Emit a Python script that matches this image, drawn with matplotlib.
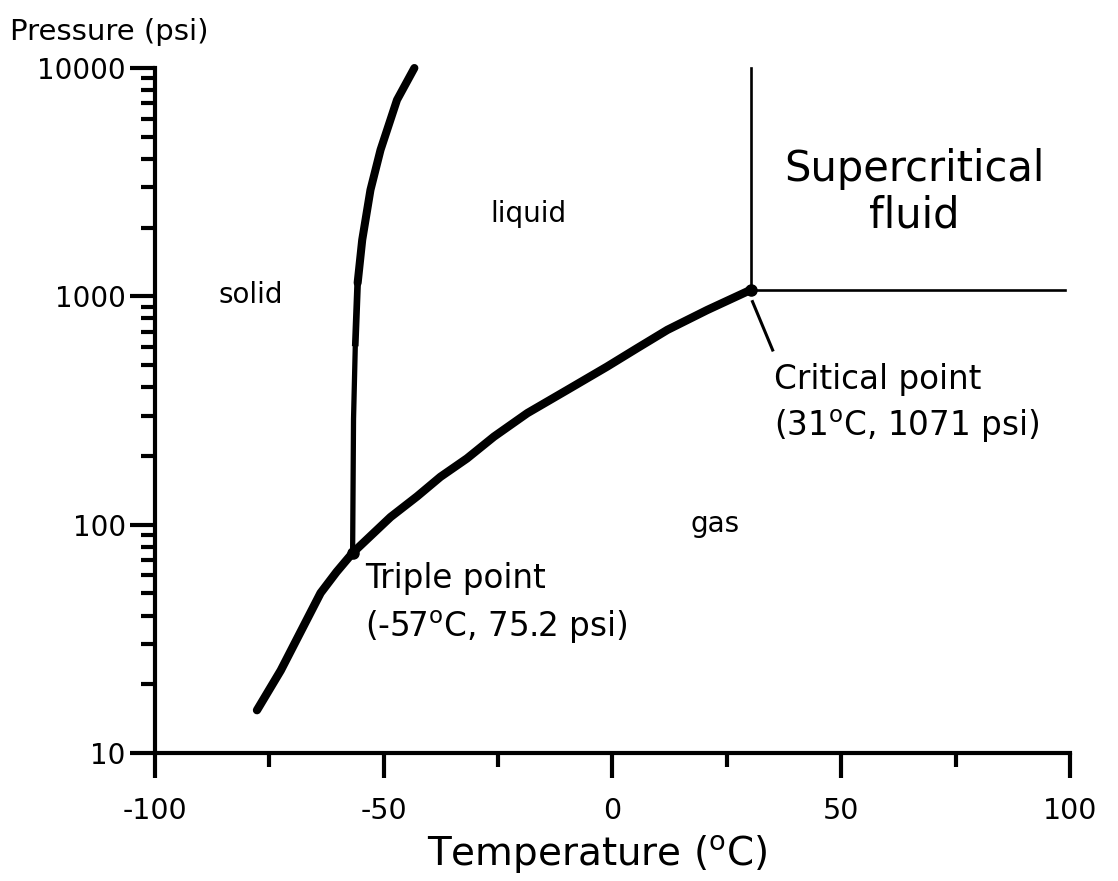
import matplotlib
matplotlib.use('Agg')
import matplotlib.pyplot as plt
from matplotlib.ticker import FixedLocator, LogLocator, NullFormatter

# solid-gas / liquid-gas boundary
vap_temp = [-77.7, -72.5, -63.8, -60.3, -56.8, -48.5, -42.7, -37.6, -31.8,
            -25.9, -18.6, -9.9, -1.2, 5.4, 12.0, 20.7, 29.4, 30.2]
vap_pres = [15.4, 23.0, 50.2, 62.1, 75.2, 108, 133, 162, 195,
            243, 308, 389, 492, 593, 713, 871, 1049, 1071]

# solid-liquid boundary
melt_temp = [-56.8, -56.6, -56.2, -55.7, -54.7, -52.9, -50.7, -47.1, -43.3]
melt_pres = [75.2, 290, 625, 1145, 1767, 2924, 4378, 7248, 10000]

triple = (-56.8, 75.2)
critical = (30.2, 1071)
super_right = 99.0
p_top = 10000

x_ticks = [-100, -50, 0, 50, 100]
x_minor = [-75, -25, 25, 75]
x_labels = ['-100', '-50', '0', '50', '100']
y_ticks = [10, 100, 1000, 10000]
y_labels = ['10', '100', '1000', '10000']

plt.rcParams['font.family'] = 'DejaVu Sans'
plt.rcParams['mathtext.fontset'] = 'dejavusans'

fig = plt.figure(figsize=(11.18, 8.81), dpi=100)
ax = fig.add_axes([0.1386, 0.1453, 0.8185, 0.7775])

# phase boundaries
ax.plot(vap_temp, vap_pres, color='black', lw=6, solid_capstyle='round',
        solid_joinstyle='round', clip_on=False)
ax.plot(melt_temp[:3], melt_pres[:3], color='black', lw=3.8,
        solid_joinstyle='round', clip_on=False)
ax.plot(melt_temp[2:4], melt_pres[2:4], color='black', lw=4.8,
        solid_joinstyle='round', clip_on=False)
ax.plot(melt_temp[3:], melt_pres[3:], color='black', lw=5.8,
        solid_capstyle='round', solid_joinstyle='round', clip_on=False)

# supercritical region edges
ax.plot([critical[0], critical[0]], [critical[1], p_top], color='black',
        lw=1.9, clip_on=False)
ax.plot([critical[0], super_right], [critical[1], critical[1]],
        color='black', lw=1.9, clip_on=False)

ax.plot(*triple, 'o', color='black', ms=8, zorder=5)
ax.plot(*critical, 'o', color='black', ms=8, zorder=5)

# leader for critical point label
ax.plot([30.6, 35.0], [948, 582], color='black', lw=2.2)

# multi-line texts: y is the baseline of the last line
ax.text(-86.1, 935, 'solid', fontsize=20, va='baseline')
ax.text(-18.4, 2118, 'liquid', fontsize=20, va='baseline', ha='center')
ax.text(17.0, 92.9, 'gas', fontsize=20, va='baseline')
ax.text(66.0, 1994, 'Supercritical\nfluid', fontsize=30, ha='center',
        va='baseline', linespacing=1.15, multialignment='center')
ax.text(-54.0, 32.3, 'Triple point\n(-57$^{\\mathrm{o}}$C, 75.2 psi)',
        fontsize=23.5, va='baseline', linespacing=1.45)
ax.text(35.2, 245, 'Critical point\n(31$^{\\mathrm{o}}$C, 1071 psi)',
        fontsize=23.5, va='baseline', linespacing=1.38)

ax.set_xlim(-100, 100)
ax.set_ylim(10, 10000)
ax.set_yscale('log')

ax.xaxis.set_major_locator(FixedLocator(x_ticks))
ax.xaxis.set_minor_locator(FixedLocator(x_minor))
ax.set_xticklabels(x_labels)
ax.yaxis.set_major_locator(FixedLocator(y_ticks))
ax.yaxis.set_minor_locator(LogLocator(base=10, subs=range(2, 10)))
ax.yaxis.set_minor_formatter(NullFormatter())
ax.set_yticklabels(y_labels)

for side in ['top', 'right']:
    ax.spines[side].set_visible(False)
for side in ['left', 'bottom']:
    ax.spines[side].set_linewidth(3)

ax.tick_params(axis='x', which='major', direction='out', length=18, width=3,
               labelsize=20.5, pad=14)
ax.tick_params(axis='x', which='minor', direction='out', length=10, width=3)
ax.tick_params(axis='y', which='major', direction='out', length=18, width=3,
               labelsize=20, pad=3)
ax.tick_params(axis='y', which='minor', direction='out', length=10, width=3)

ax.set_xlabel('Temperature ($^{\\mathrm{o}}$C)', fontsize=28, va='baseline')
ax.xaxis.set_label_coords(0.483, -0.165)
ax.set_ylabel('Pressure (psi)', fontsize=21, rotation=0, ha='left',
              va='baseline')
ax.yaxis.set_label_coords(-0.1585, 1.041)

fig.savefig('out.png', dpi=100)
